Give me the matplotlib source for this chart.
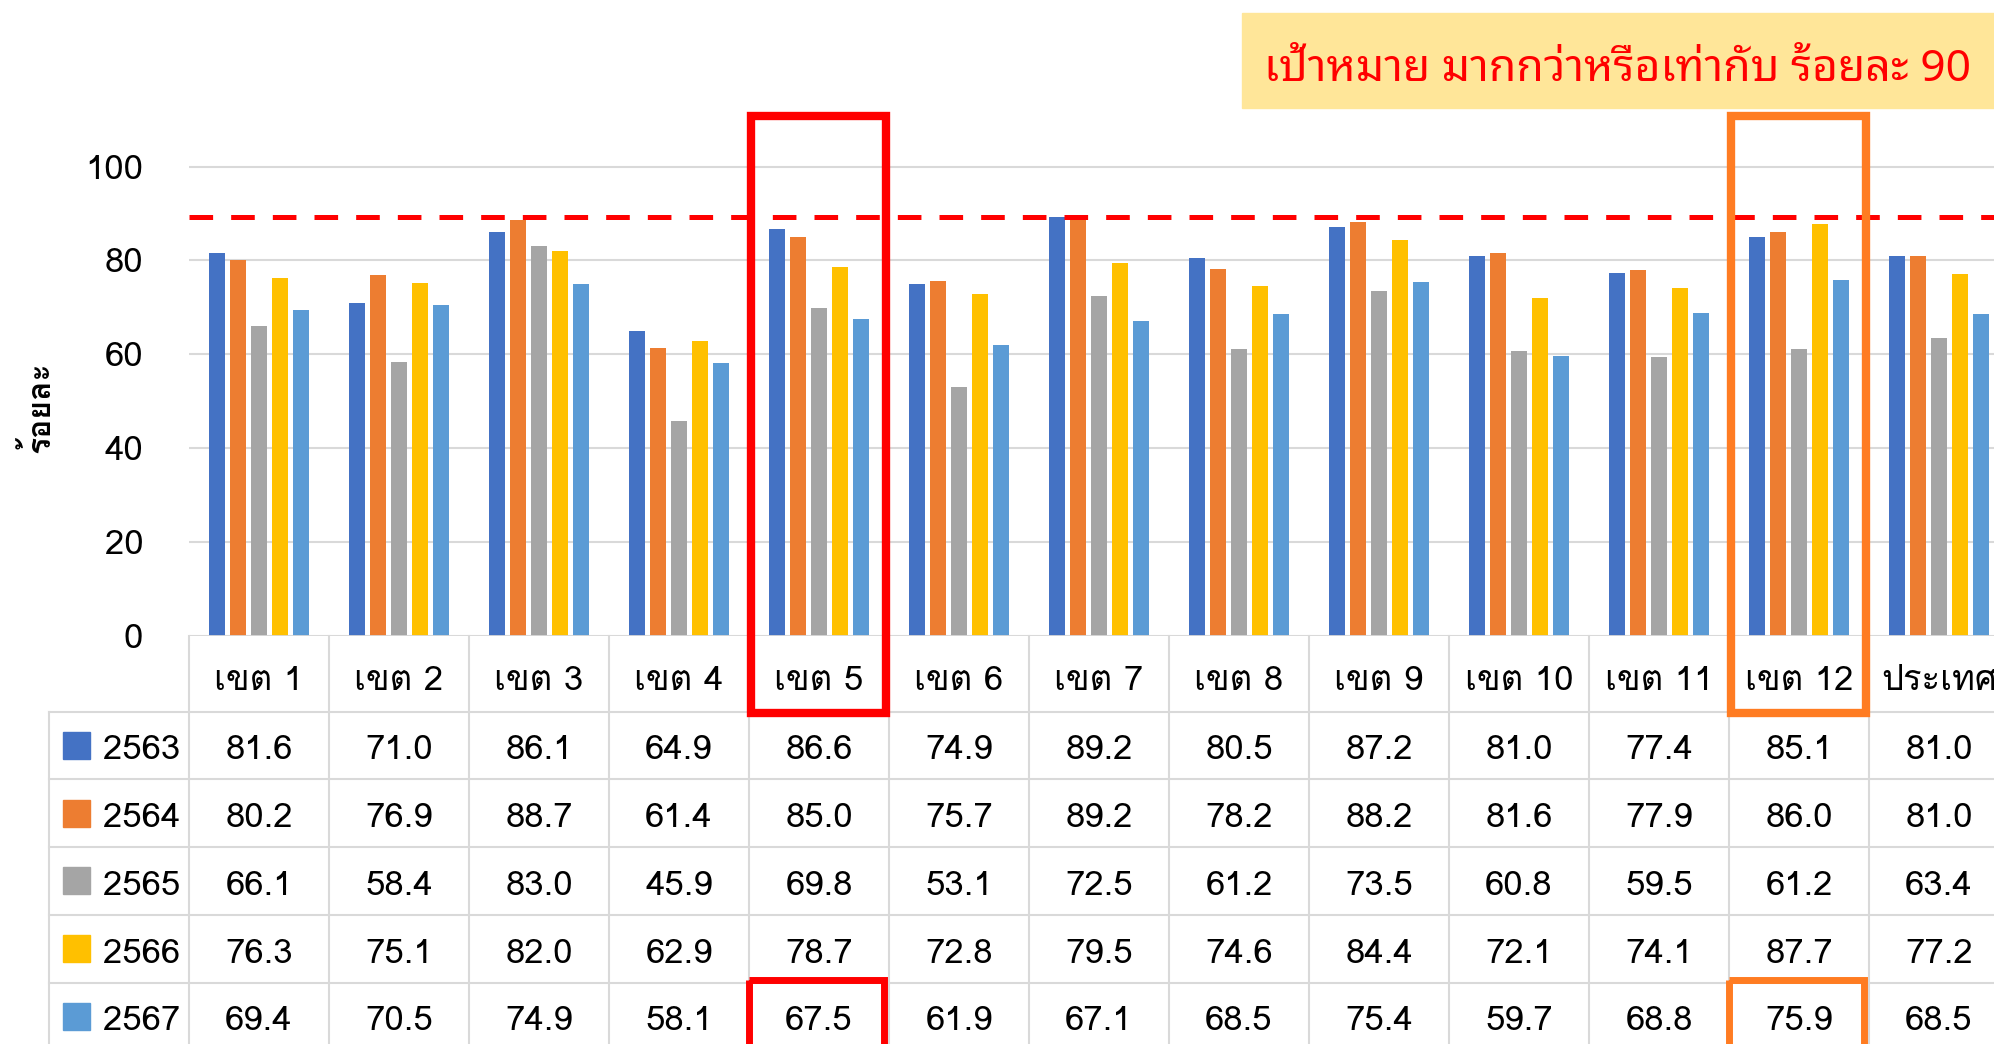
import matplotlib
matplotlib.use('Agg')
import numpy as np
from matplotlib import pyplot as plt
from matplotlib.patches import Rectangle

# data
categories = ['เขต 1', 'เขต 2', 'เขต 3', 'เขต 4', 'เขต 5', 'เขต 6', 'เขต 7',
              'เขต 8', 'เขต 9', 'เขต 10', 'เขต 11', 'เขต 12', 'ประเทศ']
years = ['2563', '2564', '2565', '2566', '2567']
v2563 = [81.6, 71.0, 86.1, 64.9, 86.6, 74.9, 89.2, 80.5, 87.2, 81.0, 77.4, 85.1, 81.0]
v2564 = [80.2, 76.9, 88.7, 61.4, 85.0, 75.7, 89.2, 78.2, 88.2, 81.6, 77.9, 86.0, 81.0]
v2565 = [66.1, 58.4, 83.0, 45.9, 69.8, 53.1, 72.5, 61.2, 73.5, 60.8, 59.5, 61.2, 63.4]
v2566 = [76.3, 75.1, 82.0, 62.9, 78.7, 72.8, 79.5, 74.6, 84.4, 72.1, 74.1, 87.7, 77.2]
v2567 = [69.4, 70.5, 74.9, 58.1, 67.5, 61.9, 67.1, 68.5, 75.4, 59.7, 68.8, 75.9, 68.5]
yticks = [0, 20, 40, 60, 80, 100]
target_line = 89.2
title = 'เป้าหมาย มากกว่าหรือเท่ากับ ร้อยละ 90'
ylabel = 'ร้อยละ'
highlight_red = 4      # เขต 5
highlight_orange = 11  # เขต 12

series = [v2563, v2564, v2565, v2566, v2567]
colors = ['#4472C4', '#ED7D31', '#A5A5A5', '#FFC000', '#5B9BD5']
grid_c = '#D9D9D9'
FONT = ['Loma', 'DejaVu Sans']
plt.rcParams['font.family'] = FONT
plt.rcParams['lines.scale_dashes'] = False

W, H = 1994, 1044
fig = plt.figure(figsize=(W / 100, H / 100), dpi=100)

# pixel layout of the original
x0, colw = 189, 140
y0, y100 = 636, 166.6
ppu = (y0 - y100) / 100
ytop = y0 - 110 * ppu
ax = fig.add_axes([x0 / W, 1 - y0 / H, 13 * colw / W, (y0 - ytop) / H])
n = len(categories)
x = np.arange(n)
pitch, bw = 0.15, 0.119
for i, vals in enumerate(series):
    ax.bar(x + (i - 2) * pitch, vals, bw, color=colors[i], zorder=3)
ax.set_xlim(-0.5, n - 0.5)
ax.set_ylim(0, 110)
ax.set_yticks(yticks)
ax.set_xticks([])
ax.tick_params(axis='y', length=0, pad=33, labelsize=25)
ax.grid(axis='y', color=grid_c, lw=1.5, zorder=0)
for s in ax.spines.values():
    s.set_visible(False)
ax.axhline(0, color=grid_c, lw=2, zorder=4)
ax.axhline(target_line, color='#FF0000', lw=3.6, dashes=(17, 13), zorder=5)

# data table under the chart
head_h = 75.7
row_h = 67.7
ybot = y0 + head_h + 5 * row_h
tab = fig.add_axes([x0 / W, 1 - ybot / H, 13 * colw / W, (ybot - y0) / H])
tab.set_xlim(-0.5, n - 0.5)
tab.set_ylim(5, -head_h / row_h)
tab.axis('off')
htop = -head_h / row_h
for k in range(n + 1):
    tab.plot([k - 0.5, k - 0.5], [htop, 5], color=grid_c, lw=1.5, clip_on=False)
tab.plot([-1.5, -1.5], [0, 5], color=grid_c, lw=1.5, clip_on=False)
for r in range(5):
    tab.plot([-1.5, n - 0.5], [r, r], color=grid_c, lw=1.5, clip_on=False)
for j, c in enumerate(categories):
    tab.text(j, htop / 2 + 0.11, c, ha='center', va='center', fontsize=25, clip_on=False)
for r, vals in enumerate(series):
    tab.add_patch(Rectangle((-1.4, r + 0.3), 0.193, 0.4, color=colors[r], clip_on=False))
    tab.text(-1.114, r + 0.58, years[r], ha='left', va='center', fontsize=25, clip_on=False)
    for j, v in enumerate(vals):
        tab.text(j, r + 0.58, f'{v:.1f}', ha='center', va='center', fontsize=25, clip_on=False)

# highlight boxes
box_top = tab.transData.inverted().transform(ax.transData.transform((0, 110.8)))[1]
for col, ec in [(highlight_red, '#FF0000'), (highlight_orange, '#FF7C22')]:
    tab.add_patch(Rectangle((col - 0.485, box_top), 0.965, 0.015 - box_top, fill=False,
                            ec=ec, lw=6, clip_on=False, zorder=6))
    tab.add_patch(Rectangle((col - 0.5, 3.97), 0.965, 1.2, fill=False,
                            ec=ec, lw=5, clip_on=False, zorder=6))

# title box
fig.patches.append(Rectangle((1242 / W, 1 - 108.3 / H), (W - 1242) / W + 0.01, 95.6 / H,
                             transform=fig.transFigure, color='#FFE699', zorder=0))
fig.text(1617 / W, 1 - 81 / H, title, ha='center', va='baseline', color='#FF0000',
         fontsize=32, weight='bold', family=['Noto Sans Thai Looped', 'DejaVu Sans'])
fig.text(38 / W, 1 - 407 / H, ylabel, rotation=90, ha='center', va='center',
         fontsize=23, weight='bold')

fig.savefig('out.png', dpi=100)
